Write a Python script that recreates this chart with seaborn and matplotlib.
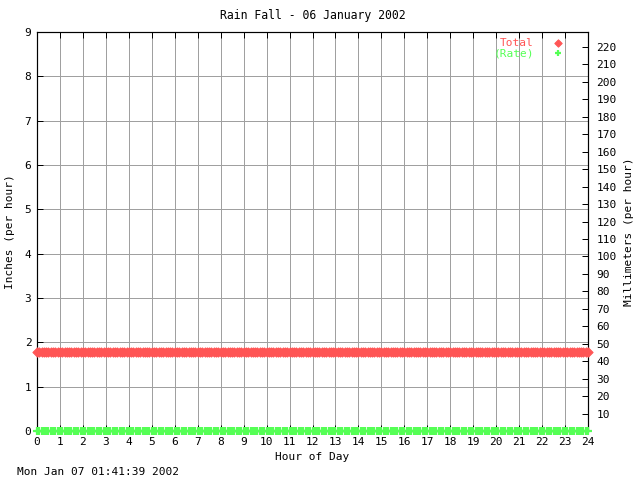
import matplotlib
matplotlib.use("Agg")
import matplotlib.pyplot as plt
import seaborn as sns
import pandas as pd

# sample times (hour of day) and readings
hours = [
    0.0, 0.1, 0.2, 0.3, 0.4, 0.5, 0.6, 0.7, 0.8, 0.9,
    1.0, 1.1, 1.2, 1.3, 1.4, 1.5, 1.6, 1.7, 1.8, 1.9,
    2.0, 2.1, 2.2, 2.3, 2.4, 2.5, 2.6, 2.7, 2.8, 2.9,
    3.0, 3.1, 3.2, 3.3, 3.4, 3.5, 3.6, 3.7, 3.8, 3.9,
    4.0, 4.1, 4.2, 4.3, 4.4, 4.5, 4.6, 4.7, 4.8, 4.9,
    5.0, 5.1, 5.2, 5.3, 5.4, 5.5, 5.6, 5.7, 5.8, 5.9,
    6.0, 6.1, 6.2, 6.3, 6.4, 6.5, 6.6, 6.7, 6.8, 6.9,
    7.0, 7.1, 7.2, 7.3, 7.4, 7.5, 7.6, 7.7, 7.8, 7.9,
    8.0, 8.1, 8.2, 8.3, 8.4, 8.5, 8.6, 8.7, 8.8, 8.9,
    9.0, 9.1, 9.2, 9.3, 9.4, 9.5, 9.6, 9.7, 9.8, 9.9,
    10.0, 10.1, 10.2, 10.3, 10.4, 10.5, 10.6, 10.7, 10.8, 10.9,
    11.0, 11.1, 11.2, 11.3, 11.4, 11.5, 11.6, 11.7, 11.8, 11.9,
    12.0, 12.1, 12.2, 12.3, 12.4, 12.5, 12.6, 12.7, 12.8, 12.9,
    13.0, 13.1, 13.2, 13.3, 13.4, 13.5, 13.6, 13.7, 13.8, 13.9,
    14.0, 14.1, 14.2, 14.3, 14.4, 14.5, 14.6, 14.7, 14.8, 14.9,
    15.0, 15.1, 15.2, 15.3, 15.4, 15.5, 15.6, 15.7, 15.8, 15.9,
    16.0, 16.1, 16.2, 16.3, 16.4, 16.5, 16.6, 16.7, 16.8, 16.9,
    17.0, 17.1, 17.2, 17.3, 17.4, 17.5, 17.6, 17.7, 17.8, 17.9,
    18.0, 18.1, 18.2, 18.3, 18.4, 18.5, 18.6, 18.7, 18.8, 18.9,
    19.0, 19.1, 19.2, 19.3, 19.4, 19.5, 19.6, 19.7, 19.8, 19.9,
    20.0, 20.1, 20.2, 20.3, 20.4, 20.5, 20.6, 20.7, 20.8, 20.9,
    21.0, 21.1, 21.2, 21.3, 21.4, 21.5, 21.6, 21.7, 21.8, 21.9,
    22.0, 22.1, 22.2, 22.3, 22.4, 22.5, 22.6, 22.7, 22.8, 22.9,
    23.0, 23.1, 23.2, 23.3, 23.4, 23.5, 23.6, 23.7, 23.8, 23.9, 24.0,
]
total_in = [1.78] * len(hours)
rate_in = [0.0] * len(hours)

red = "#ff5555"
green = "#55ff55"
mono = "DejaVu Sans Mono"
px = 0.72  # one pixel in points at 100 dpi

sns.set_style("white")
plt.rcParams["font.family"] = mono
plt.rcParams["font.size"] = 8
plt.rcParams["text.color"] = "black"
plt.rcParams["axes.labelcolor"] = "black"
plt.rcParams["xtick.color"] = "black"
plt.rcParams["ytick.color"] = "black"

df = pd.DataFrame({"hour": hours, "total": total_in, "rate": rate_in})

fig = plt.figure(figsize=(6.4, 4.8), dpi=100)
ax = fig.add_axes([37 / 640, 1 - 431 / 480, 551 / 640, 399 / 480])

sns.scatterplot(data=df, x="hour", y="total", ax=ax, marker="D", s=22,
                color=red, edgecolor=red, linewidth=px, label="Total",
                clip_on=False, zorder=3)
sns.scatterplot(data=df, x="hour", y="rate", ax=ax, marker="+", s=30,
                color=green, linewidth=1.6, label="(Rate)",
                clip_on=False, zorder=3)

ax.set_xlim(0, 24)
ax.set_ylim(0, 9)
ax.set_xticks(range(0, 25))
ax.set_yticks(range(0, 10))
ax.grid(True, color="#a0a0a0", linewidth=px)
ax.set_axisbelow(True)
for s in ax.spines.values():
    s.set_color("black")
    s.set_linewidth(px * 1.2)
ax.tick_params(direction="in", length=4, width=px, colors="black",
               top=True, left=True, bottom=True, labelsize=8, pad=4)

ax.set_xlabel("Hour of Day", fontsize=8, labelpad=4)
ax.set_ylabel("Inches (per hour)", fontsize=8, labelpad=7)
ax.set_title("Rain Fall - 06 January 2002", fontsize=8.3, pad=9)

ax2 = ax.twinx()
ax2.set_ylim(0, 9 * 25.4)
ax2.set_yticks(range(10, 230, 10))
ax2.tick_params(direction="in", length=4, width=px, labelsize=8, pad=6,
                colors="black")
ax2.set_ylabel("Millimeters (per hour)", fontsize=8, labelpad=5)
for s in ax2.spines.values():
    s.set_visible(False)

leg = ax.legend(loc="upper right", bbox_to_anchor=(0.972, 1.005), frameon=False,
                markerfirst=False, handletextpad=1.6, labelspacing=0.05,
                handlelength=1.2, fontsize=8, borderaxespad=0.3,
                markerscale=0.8)
for text, c in zip(leg.get_texts(), [red, green]):
    text.set_color(c)

fig.text(17 / 640, 1 - 472 / 480, "Mon Jan 07 01:41:39 2002", fontsize=8,
         va="center", ha="left")

fig.savefig("out.png", dpi=100)
